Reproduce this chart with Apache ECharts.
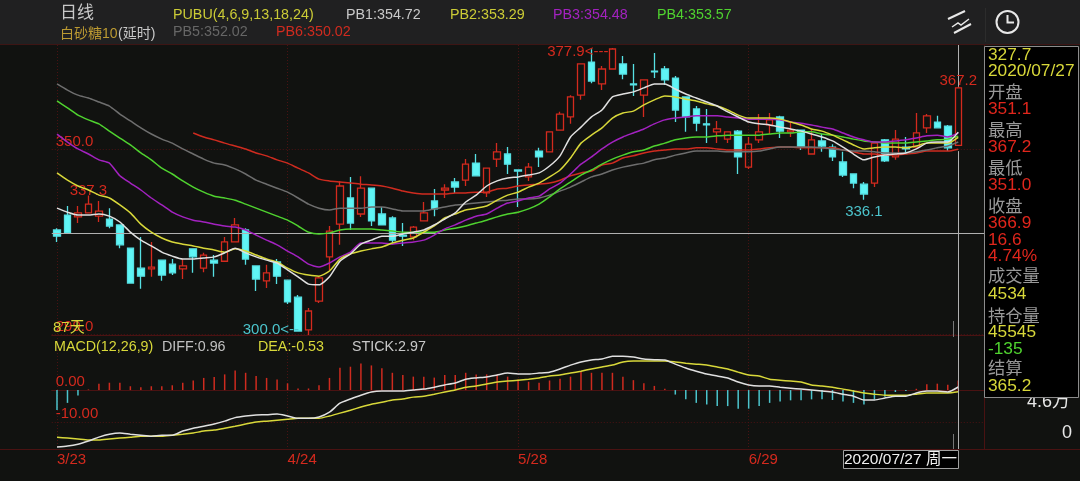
<!DOCTYPE html>
<html>
<head>
<meta charset="utf-8">
<style>
html, body { margin: 0; padding: 0; background: #111210; }
#main { width: 1080px; height: 481px; }
</style>
<script src="https://cdn.jsdelivr.net/npm/echarts@6/dist/echarts.min.js"></script>
</head>
<body>
<div id="main"></div>
<script>
// 日期：只有 3/23 4/24 5/28 6/29 显示在轴上
var dates = ['3/23','3/24','3/25','3/26','3/27','3/30','3/31','4/1','4/2','4/7','4/8','4/9','4/10','4/13','4/14','4/15','4/16','4/17','4/20','4/21','4/22','4/23','4/24',
	'4/27','4/28','4/29','4/30','5/5','5/6','5/7','5/8','5/11','5/12','5/13','5/14','5/15','5/18','5/19','5/20','5/21','5/22','5/25','5/26','5/27','5/28',
	'5/29','6/1','6/2','6/3','6/4','6/5','6/8','6/9','6/10','6/11','6/12','6/15','6/16','6/17','6/18','6/19','6/22','6/23','6/24','6/25','6/26','6/29',
	'6/30','7/1','7/2','7/3','7/6','7/7','7/8','7/9','7/10','7/13','7/14','7/15','7/16','7/17','7/20','7/21','7/22','7/23','7/24','7/27'];
var dateTicks = ['3/23', '4/24', '5/28', '6/29'];

// open, close, low, high
var ohlc = [
	[327.8,326.1,324.5,328.3],[331.9,327.0,327.0,334.4],[331.4,332.5,329.7,334.4],[332.5,334.9,332.5,337.3],[331.6,333.0,330.0,335.8],
	[330.8,328.9,328.3,333.8],[329.2,323.7,322.8,329.2],[322.8,313.2,313.2,322.8],[317.3,315.1,311.6,325.9],[317.1,317.6,314.9,324.5],
	[319.5,315.4,313.8,319.5],[318.4,316.0,315.4,319.8],[317.1,317.9,314.3,319.8],[322.6,320.4,316.0,322.6],[317.3,320.9,316.2,321.5],
	[319.5,318.7,314.9,320.9],[319.2,324.5,319.2,325.9],[324.5,329.2,324.5,331.1],[327.8,319.8,318.2,328.3],[317.9,314.3,311.0,317.9],
	[313.8,316.0,311.8,318.2],[319.0,315.1,312.9,319.8],[314.0,308.0,307.4,314.0],[309.3,300.0,300.0,309.9],[300.3,305.5,298.9,306.3],
	[308.2,314.6,307.7,314.9],[320.4,327.5,316.8,328.9],[329.4,339.9,323.7,341.3],[336.6,329.7,327.8,342.4],[332.2,339.3,331.4,342.6],
	[339.3,330.3,328.9,339.3],[332.2,329.2,329.2,334.1],[331.1,325.0,324.2,331.6],[326.4,326.1,323.4,329.7],[325.9,328.6,325.0,328.9],
	[330.3,332.5,330.3,335.5],[335.8,333.6,331.6,339.1],[338.8,339.3,336.6,340.4],[341.0,339.6,338.0,342.1],[341.5,345.9,339.9,347.3],
	[346.2,342.7,342.7,348.7],[338.0,344.8,336.9,344.8],[347.3,349.3,345.1,351.7],[348.7,345.9,343.2,350.6],[344.3,344.0,334.1,344.3],
	[342.4,345.1,341.3,346.2],[349.5,347.9,345.1,350.4],[349.3,354.8,349.3,354.8],[355.3,359.7,355.3,360.3],[358.9,364.4,357.0,364.9],
	[364.9,373.5,363.6,373.7],[374.0,368.8,368.2,377.5],[368.0,372.1,366.3,372.9],[372.1,377.6,372.1,377.9],[373.5,370.7,369.3,375.7],
	[368.0,367.7,364.7,373.5],[364.9,369.1,358.9,369.3],[371.5,371.3,369.6,376.5],[372.1,369.1,367.7,372.9],[369.6,360.8,357.5,370.2],
	[364.4,358.9,354.8,364.4],[361.1,357.2,355.0,361.9],[357.0,356.7,351.7,361.1],[354.8,355.6,351.7,357.8],[352.8,354.8,351.7,354.8],
	[355.0,347.9,343.2,355.3],[345.1,351.4,344.6,353.4],[352.6,354.8,351.7,359.7],[356.7,358.1,354.2,360.0],[358.9,355.0,353.1,359.2],
	[354.8,355.3,353.4,357.5],[355.3,350.6,349.8,355.3],[348.7,352.6,348.7,355.6],[352.3,350.9,349.3,354.2],[350.6,347.9,346.8,351.4],
	[346.5,342.9,342.4,349.3],[343.2,340.7,339.3,343.2],[340.4,337.7,336.1,341.0],[340.7,351.7,339.6,351.7],[352.6,346.8,346.5,352.8],
	[347.9,352.8,347.1,355.3],[350.6,350.1,349.0,353.4],[350.6,354.5,350.6,360.0],[355.9,359.2,354.5,359.7],[357.5,355.9,355.9,359.2],
	[356.4,350.4,349.5,356.7],[351.1,366.9,351.0,367.2]
];

var pb1 = [333.8,332.7,331.9,331.9,332.2,331.6,330.0,327.2,325.0,323.4,321.7,320.6,319.8,319.8,320.1,320.4,321.5,322.8,321.5,320.4,319.5,318.7,316.8,314.9,312.9,312.7,314.9,319.2,321.2,323.9,325.0,326.1,326.1,326.7,327.2,327.8,329.2,330.8,332.5,335.5,337.4,339.9,341.3,342.1,342.4,342.9,343.5,345.4,348.2,353.4,356.1,358.9,360.8,364.4,365.2,365.8,366.9,368.0,368.0,366.6,365.2,364.1,363.0,361.9,360.3,358.9,357.5,357.0,356.7,356.1,355.6,355.0,354.2,353.4,352.3,350.6,348.7,347.1,347.9,348.4,348.7,349.0,350.1,351.7,352.0,352.0,354.72];
var pb2 = [343.5,341.5,339.9,338.8,337.4,336.6,334.7,332.5,329.4,327.2,325.6,324.5,323.9,323.4,322.8,322.3,321.7,322.6,322.0,320.9,319.8,319.0,317.3,316.0,315.4,315.1,316.5,319.8,321.2,322.0,322.6,323.1,324.2,325.0,325.6,327.2,328.9,331.1,332.2,333.3,333.8,334.4,336.0,337.4,338.2,339.6,340.7,342.4,344.3,347.6,351.7,353.9,355.9,358.6,360.0,360.5,362.2,363.6,364.7,364.4,363.8,363.3,362.5,361.9,360.8,359.4,358.6,358.6,358.6,358.3,357.5,356.7,355.6,355.0,353.9,352.6,351.2,350.1,350.4,350.6,350.6,350.4,350.9,351.7,351.7,351.7,353.29];
var pb3 = [354.2,352.0,350.1,348.7,347.1,346.2,342.7,340.7,338.8,336.6,334.7,332.7,331.4,330.5,330.0,329.4,328.9,328.6,327.8,326.4,325.0,323.7,322.0,320.4,318.4,317.6,318.7,320.4,321.7,324.2,324.2,324.2,323.9,324.2,324.5,325.0,326.4,328.1,329.2,330.5,331.6,332.2,333.8,335.2,335.8,336.6,337.1,339.1,340.7,343.2,345.9,347.9,350.1,352.0,353.4,354.5,355.6,357.0,358.1,358.6,358.9,359.2,359.2,359.2,358.9,358.6,358.3,358.3,358.3,358.1,357.5,357.2,356.7,356.1,355.6,354.5,353.4,352.6,352.0,352.0,352.3,352.6,353.1,353.7,353.9,353.4,354.48];
var pb4 = [363.3,361.4,359.4,358.1,357.0,355.0,353.1,351.2,349.0,347.1,344.8,343.2,341.3,339.6,338.2,337.1,336.6,336.0,334.9,333.8,332.7,331.6,330.5,328.9,327.2,326.7,327.0,327.8,328.1,328.1,328.1,327.8,327.5,327.2,327.2,327.2,327.2,327.8,328.3,328.9,329.7,330.5,331.4,332.2,332.7,333.6,334.9,336.9,339.1,341.0,342.9,344.3,345.9,347.3,348.4,349.3,349.8,350.9,351.7,352.6,353.1,353.4,353.4,353.7,353.9,353.9,353.9,353.9,354.2,354.5,354.5,354.8,354.8,354.2,353.9,353.4,352.8,352.3,352.0,351.7,351.7,351.7,352.0,352.3,352.6,352.8,353.57];
var pb5 = [368.0,366.3,364.9,364.1,363.0,361.9,359.7,357.8,355.9,354.2,352.8,351.7,350.1,348.7,347.3,346.2,345.7,344.6,343.2,341.5,340.4,339.3,338.2,336.6,334.9,333.8,333.3,333.8,333.8,333.8,334.1,334.1,333.6,333.0,333.0,333.0,333.6,334.1,334.7,334.9,335.2,335.5,335.8,336.0,336.3,336.3,336.6,337.4,338.5,339.6,341.0,342.4,343.2,344.3,345.1,345.7,346.2,347.1,347.6,348.4,349.0,349.5,349.5,349.5,349.3,349.3,349.3,349.5,350.1,350.6,350.6,350.6,350.6,350.4,350.1,349.8,349.5,349.5,349.3,349.0,349.0,349.0,349.3,349.8,350.4,350.9,352.02];
// PB6 前 13 天没有值
var pb6 = [null,null,null,null,null,null,null,null,null,null,null,null,null,354.5,353.4,352.6,351.7,350.9,350.1,349.0,348.2,347.1,346.2,344.8,343.5,341.8,341.3,341.0,340.7,340.4,340.2,339.9,339.3,338.5,338.0,337.7,337.7,337.7,338.0,338.0,338.2,338.2,339.1,339.3,339.9,340.2,340.4,340.7,341.5,342.7,343.5,344.0,345.7,346.2,347.6,348.2,349.0,349.5,349.8,350.1,350.1,350.4,350.4,350.1,349.8,349.8,349.8,350.1,350.4,350.6,350.6,350.4,350.4,350.4,350.4,349.8,349.3,348.7,348.7,348.4,348.4,348.7,349.0,349.5,349.5,349.5,350.02];

var diff = [-17.8,-17.5,-16.9,-15.9,-14.7,-13.8,-13.4,-13.8,-14.1,-14.4,-14.1,-14.1,-12.8,-11.9,-11.3,-10.6,-9.7,-8.6,-8.1,-7.8,-7.7,-7.5,-8.1,-8.8,-8.8,-8.4,-6.9,-4.1,-2.8,-1.6,-0.6,-0.3,-0.3,-0.3,0,0.3,0.9,1.6,2.2,3.4,3.8,4.1,4.7,5.3,5.0,5.0,5.3,5.6,6.6,7.8,8.8,9.4,9.7,10.6,10.6,10.3,9.7,9.5,9.4,8.1,6.9,5.9,5.0,4.4,3.8,2.5,1.6,1.3,1.3,0.9,0.6,0.3,0,-0.3,-0.6,-1.3,-1.9,-3.1,-3.1,-2.5,-1.9,-1.9,-0.9,-0.3,-0.3,-0.6,0.96];
var dea = [-14.7,-15.0,-15.3,-15.6,-15.6,-15.3,-15.0,-14.7,-14.4,-14.4,-14.4,-14.1,-13.8,-13.4,-12.8,-12.5,-11.9,-11.3,-10.6,-10.0,-9.7,-9.4,-9.1,-8.8,-8.8,-8.8,-8.1,-7.2,-6.3,-5.3,-4.4,-3.8,-3.1,-2.8,-2.2,-1.9,-1.3,-0.6,0,0.9,1.3,1.9,2.5,2.8,3.1,3.4,3.8,4.4,4.7,5.3,5.9,6.6,7.2,7.8,8.8,9.1,9.1,9.1,9.1,8.8,8.4,8.1,7.8,7.2,6.6,5.6,4.7,4.4,3.4,3.1,2.8,2.5,1.6,1.3,0.9,0.3,-0.3,-0.9,-1.3,-1.6,-1.6,-1.6,-1.3,-0.9,-0.9,-0.9,-0.53];
var stick = [-6.25,-4,-1.7,0.2,2,2.3,2.3,1.2,0.9,1.2,1.2,1.5,2.3,3,3.8,4.1,4.9,6.1,5.4,4.4,3.8,3.3,2.1,0.5,0.5,1.5,3.8,7,7.3,8.3,7.7,6.8,5.4,4.7,4.2,4.2,3.9,4.7,4.7,5.4,4.9,4.9,4.9,4.2,3.3,2.6,2.3,3.0,3.5,4.2,5.7,5.4,5.4,5.4,4.2,3.1,2.1,1.3,0.4,-1.4,-2.9,-4.0,-4.5,-5,-5,-5.8,-5.8,-5,-4,-3.6,-3.2,-3.2,-2.9,-2.9,-3.1,-3.6,-4,-4.5,-2.9,-2.1,-0.6,-0.3,0.4,1.8,2,1.7,2.97];

var priceTicks = [299, 350];
var macdTicks = [-10, 0];
var crossPrice = 326.9;
var priceMin = 298.9, priceMax = 378.7;

var RED = '#d42a1e', CYAN = '#5ff5f5', BG = '#111210', GRID = '#4a1212';
var FONT = '"Liberation Sans", "Noto Sans CJK SC", sans-serif';

var myChart = echarts.init(document.getElementById('main'), null, { renderer: 'canvas' });

function maLine(name, data, color) {
	return {
		name: name,
		type: 'line',
		data: data,
		symbol: 'none',
		smooth: 0.2,
		connectNulls: false,
		lineStyle: { color: color, width: 1.5 },
		z: 5,
		silent: true
	};
}

function label(text, x, y, color, size, extra) {
	return {
		type: 'text',
		silent: true,
		z: (extra && extra.z) || 60,
		x: x,
		y: y,
		style: {
			text: text,
			fill: color,
			font: (size || 14) + 'px ' + FONT,
			textVerticalAlign: 'middle',
			align: (extra && extra.align) || 'left',
			verticalAlign: 'middle'
		}
	};
}

function tickLine(x1, y1, x2, y2, color, width, z) {
	return { type: 'line', silent: true, z: z || 50, shape: { x1: x1, y1: y1, x2: x2, y2: y2 }, style: { stroke: color, lineWidth: width || 1 } };
}

// 右侧信息框
var infoRows = [
	['327.7', 55, '#d8d83a'], ['2020/07/27', 71, '#d8d83a'],
	['开盘', 93, '#999'], ['351.1', 109, '#e0261c'],
	['最高', 131, '#999'], ['367.2', 147, '#e0261c'],
	['最低', 169, '#999'], ['351.0', 185, '#e0261c'],
	['收盘', 207, '#999'], ['366.9', 223, '#e0261c'],
	['16.6', 240, '#e0261c'], ['4.74%', 256, '#e0261c'],
	['成交量', 277, '#999'], ['4534', 294, '#d8d83a'],
	['持仓量', 317, '#999'], ['45545', 332, '#d8d83a'],
	['-135', 349, '#4fd22f'],
	['结算', 369, '#999'], ['365.2', 386, '#d8d83a']
];

var graphics = [
	// 顶栏
	{ type: 'rect', silent: true, z: 0, shape: { x: 0, y: 0, width: 1080, height: 44.5 }, style: { fill: '#202021' } },
	tickLine(0, 44.5, 1080, 44.5, '#3d1514', 1, 1),
	tickLine(984.5, 45, 984.5, 449, GRID, 1, 1),
	tickLine(0, 449.5, 1080, 449.5, GRID, 1, 1),
	tickLine(985.5, 8, 985.5, 42, '#2c2c2c', 1, 2),
	label('日线', 60, 13, '#c8c8c8', 17),
	label('白砂糖10', 60, 34.5, '#bc9a32', 14),
	label('(延时)', 118, 34.5, '#c8c8c8', 14),
	label('PUBU(4,6,9,13,18,24)', 173, 15, '#cccc36', 14.3),
	label('PB1:354.72', 346, 15, '#c8c8c8', 14.3),
	label('PB2:353.29', 450, 15, '#cccc36', 14.3),
	label('PB3:354.48', 553, 15, '#a322c0', 14.3),
	label('PB4:353.57', 657, 15, '#4fd22f', 14.3),
	label('PB5:352.02', 173, 32, '#666666', 14.3),
	label('PB6:350.02', 276, 32, '#cf2b1f', 14.3),
	// 画线图标
	tickLine(948, 19, 965, 11, '#e8e8e8', 2),
	{ type: 'polyline', silent: true, z: 50, shape: { points: [[952, 27], [958, 23], [961, 25], [969, 19]] }, style: { stroke: '#e8e8e8', lineWidth: 1.5, fill: 'none' } },
	tickLine(954, 33, 971, 24, '#e8e8e8', 2),
	// 时钟图标
	{ type: 'circle', silent: true, z: 50, shape: { cx: 1007.5, cy: 22, r: 11 }, style: { stroke: '#e8e8e8', lineWidth: 2, fill: 'none' } },
	{ type: 'polyline', silent: true, z: 50, shape: { points: [[1007.5, 15], [1007.5, 22.5], [1014, 22.5]] }, style: { stroke: '#e8e8e8', lineWidth: 2, fill: 'none' } },
	// 副图文字
	label('87天', 53, 328, '#d8d83a', 15, { z: 61 }),
	label('MACD(12,26,9)', 54, 347, '#d8d83a', 14.3),
	label('DIFF:0.96', 162, 347, '#c0c0c0', 14.3),
	label('DEA:-0.53', 258, 347, '#d8d83a', 14.3),
	label('STICK:2.97', 352, 347, '#c8c8c8', 14.3),
	tickLine(953.5, 321, 953.5, 337, '#777', 1),
	tickLine(953.5, 434, 953.5, 449, '#777', 1),
	// 右侧成交量刻度（一部分被信息框盖住）
	label('4.6万', 1070, 402, '#e8e8e8', 18, { align: 'right', z: 40 }),
	label('0', 1072, 433, '#e8e8e8', 18, { align: 'right', z: 40 }),
	// 信息框
	{ type: 'rect', silent: true, z: 70, shape: { x: 984.5, y: 46.5, width: 94, height: 351 }, style: { fill: '#000', stroke: '#8c8c8c', lineWidth: 1 } },
	// 底部日期框
	{ type: 'rect', silent: true, z: 70, shape: { x: 843.5, y: 450.5, width: 115, height: 18 }, style: { fill: '#000', stroke: '#a0a0a0', lineWidth: 1 } },
	label('2020/07/27 周一', 844, 460, '#f0f0f0', 15.5, { z: 71 })
];
infoRows.forEach(function (row) {
	graphics.push(label(row[0], 988, row[1], row[2], 17.3, { z: 71 }));
});

var option = {
	backgroundColor: BG,
	animation: false,
	textStyle: { fontFamily: FONT },
	graphic: graphics,
	grid: [
		{ left: 51.76, top: 45, width: 932.7, height: 290 },
		{ left: 51.76, top: 335, width: 932.7, height: 114 }
	],
	xAxis: [{
		type: 'category',
		data: dates,
		max: 88,
		gridIndex: 0,
		axisLine: { lineStyle: { color: GRID } },
		axisTick: { show: false },
		axisLabel: { show: false },
		splitLine: {
			show: true,
			alignWithLabel: true,
			interval: function (i, v) { return dateTicks.indexOf(v) >= 0; },
			lineStyle: { color: GRID, type: [1, 2] }
		}
	}, {
		type: 'category',
		data: dates,
		max: 88,
		gridIndex: 1,
		axisLine: { lineStyle: { color: GRID } },
		axisTick: { show: false },
		axisLabel: {
			color: RED,
			fontSize: 15,
			align: 'left',
			margin: 3,
			interval: function (i, v) { return dateTicks.indexOf(v) >= 0; }
		},
		splitLine: {
			show: true,
			alignWithLabel: true,
			interval: function (i, v) { return dateTicks.indexOf(v) >= 0; },
			lineStyle: { color: GRID, type: [1, 2] }
		}
	}],
	yAxis: [{
		type: 'value',
		gridIndex: 0,
		min: priceMin,
		max: priceMax,
		axisLine: { show: false },
		axisTick: { show: false, customValues: priceTicks },
		axisLabel: {
			inside: true,
			margin: 4,
			color: RED,
			fontSize: 15,
			verticalAlign: 'bottom',
			customValues: priceTicks,
			showMinLabel: true,
			formatter: function (v) { return v.toFixed(1); }
		},
		splitLine: { show: true, lineStyle: { color: GRID, type: [1, 2] } }
	}, {
		type: 'value',
		gridIndex: 1,
		min: -18.4,
		max: 17.2,
		axisLine: { show: false },
		axisTick: { show: false, customValues: macdTicks },
		axisLabel: {
			inside: true,
			margin: 4,
			color: RED,
			fontSize: 15,
			verticalAlign: 'bottom',
			padding: [0, 0, 1, 0],
			customValues: macdTicks,
			formatter: function (v) { return v.toFixed(2); }
		},
		splitLine: { show: true, lineStyle: { color: GRID, type: [1, 2] } }
	}],
	series: [{
		name: 'K',
		type: 'candlestick',
		xAxisIndex: 0,
		yAxisIndex: 0,
		data: ohlc,
		barWidth: 7,
		z: 3,
		silent: true,
		itemStyle: {
			color: 'transparent',
			color0: CYAN,
			borderColor: RED,
			borderColor0: '#56e0e4',
			borderWidth: 1.3
		},
		markPoint: {
			symbol: 'circle',
			symbolSize: 0,
			silent: true,
			data: [
				{ coord: [3, 337.3], label: { formatter: '337.3', position: 'top', distance: 1, offset: [0, 4], color: RED, fontSize: 15 } },
				{ coord: [53, 377.9], label: { formatter: '377.9<---', position: 'left', distance: 4, offset: [0, 4], color: RED, fontSize: 15 } },
				{ coord: [23, 300.0], label: { formatter: '300.0<--', position: 'left', distance: 2, offset: [3, -1], color: '#4cc4cc', fontSize: 15 } },
				{ coord: [77, 336.1], label: { formatter: '336.1', position: 'bottom', distance: 2, offset: [0, 3], color: '#4cc4cc', fontSize: 15 } },
				{ coord: [86, 367.2], label: { formatter: '367.2', position: 'top', distance: 1, offset: [0, 3], color: RED, fontSize: 15 } }
			]
		},
		markLine: {
			symbol: 'none',
			silent: true,
			animation: false,
			label: { show: false },
			lineStyle: { color: '#b0b0b0', width: 1, type: 'solid' },
			// 十字线竖线不穿过最后一根K线
			data: [
				{ yAxis: crossPrice },
				[{ coord: [86, priceMax] }, { coord: [86, 367.2] }],
				[{ coord: [86, 349.5] }, { coord: [86, priceMin] }]
			]
		}
	},
	maLine('PB6', pb6, '#cf2b1f'),
	maLine('PB5', pb5, '#6e6e6e'),
	maLine('PB4', pb4, '#4fd22f'),
	maLine('PB3', pb3, '#a322c0'),
	maLine('PB2', pb2, '#d8d83a'),
	maLine('PB1', pb1, '#e0e0e0'),
	{
		name: 'STICK',
		type: 'bar',
		xAxisIndex: 1,
		yAxisIndex: 1,
		data: stick,
		barWidth: 1.5,
		silent: true,
		itemStyle: {
			color: function (p) { return p.value >= 0 ? '#cf2b1f' : '#4cc4cc'; }
		},
		markLine: {
			symbol: 'none',
			silent: true,
			animation: false,
			label: { show: false },
			lineStyle: { color: '#b0b0b0', width: 1, type: 'solid' },
			data: [{ xAxis: 86 }]
		}
	}, {
		name: 'DEA',
		type: 'line',
		xAxisIndex: 1,
		yAxisIndex: 1,
		data: dea,
		symbol: 'none',
		smooth: 0.2,
		silent: true,
		lineStyle: { color: '#d8d83a', width: 1.5 }
	}, {
		name: 'DIFF',
		type: 'line',
		xAxisIndex: 1,
		yAxisIndex: 1,
		data: diff,
		symbol: 'none',
		smooth: 0.2,
		silent: true,
		lineStyle: { color: '#e0e0e0', width: 1.5 }
	}]
};

myChart.setOption(option);
</script>
</body>
</html>
